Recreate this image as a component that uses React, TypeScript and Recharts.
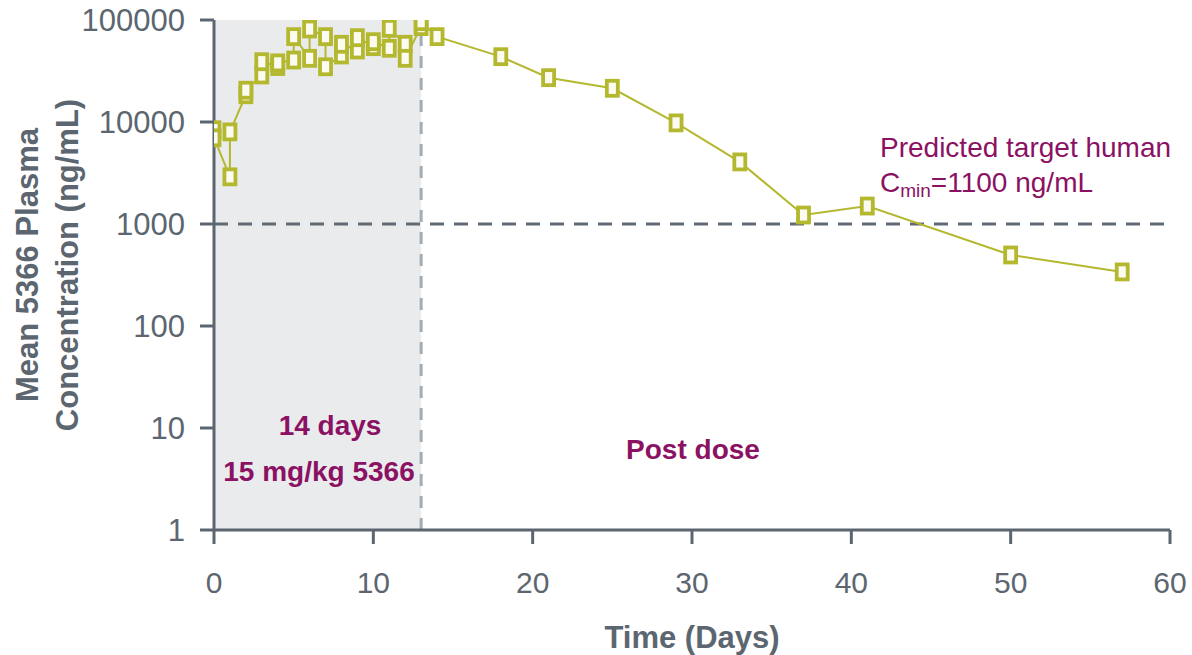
import React from "react";
import {
  ComposedChart,
  Line,
  XAxis,
  YAxis,
  ReferenceArea,
  ReferenceLine,
} from "recharts";

// sampling times (days) and mean plasma concentration (ng/mL)
const days = [
  0, 0, 1, 1, 2, 2, 3, 3, 4, 4, 5, 5, 6, 6, 7, 7, 8, 8, 9, 9, 10, 10, 11, 11, 12, 12, 13, 13,
  14, 18, 21, 25, 29, 33, 37, 41, 50, 57,
];
const conc = [
  8400, 7000, 2900, 8000, 18500, 20500, 28900, 39000, 35000, 38000, 40500, 68700, 42100, 81600,
  68700, 34800, 45400, 57800, 50800, 67100, 54800, 61300, 52800, 82800, 57800, 42100, 86100, 96300,
  68700, 43700, 27200, 21400, 9800, 4060, 1225, 1500, 497, 339,
];

const xTicks = [0, 10, 20, 30, 40, 50, 60];
const yTicks = [1, 10, 100, 1000, 10000, 100000];

const doseEnd = 13;
const targetCmin = 1000;

const data = days.map((t, i) => ({ t, c: conc[i] }));

const axisColor = "#5c6670";
const lineColor = "#b4b82f";
const purple = "#8b1163";
const font = '"Liberation Sans", Arial, sans-serif';

const SquareDot = (props: any) => {
  const { cx, cy } = props;
  if (cx == null || cy == null) return null;
  return (
    <rect
      x={cx - 5.5}
      y={cy - 7.5}
      width={11}
      height={15}
      fill="#fbfbf2"
      stroke={lineColor}
      strokeWidth={3.8}
    />
  );
};

export default function App() {
  return (
    <div style={{ position: "absolute", left: 0, top: 0, width: 1192, height: 655, fontFamily: font, background: "#fff" }}>
      <ComposedChart width={1192} height={655} data={data} margin={{ top: 20, right: 22, bottom: 0, left: 0 }}>
        <ReferenceArea x1={0} x2={doseEnd} y1={1} y2={100000} fill="#e9ebed" fillOpacity={1} stroke="none" />
        <XAxis
          dataKey="t"
          type="number"
          domain={[0, 60]}
          ticks={xTicks}
          allowDataOverflow
          height={125}
          tickSize={14}
          tickMargin={28}
          axisLine={{ stroke: axisColor, strokeWidth: 3 }}
          tickLine={{ stroke: axisColor, strokeWidth: 3 }}
          tick={{ fill: axisColor, fontSize: 30, fontFamily: font }}
        />
        <YAxis
          type="number"
          scale="log"
          domain={[1, 100000]}
          ticks={yTicks}
          allowDataOverflow
          width={214}
          tickSize={14}
          tickMargin={15}
          axisLine={{ stroke: axisColor, strokeWidth: 3 }}
          tickLine={{ stroke: axisColor, strokeWidth: 3 }}
          tick={{ fill: axisColor, fontSize: 31, fontFamily: font }}
        />
        <ReferenceLine x={doseEnd} stroke="#a3abb3" strokeWidth={3} strokeDasharray="12 10" />
        <ReferenceLine y={targetCmin} stroke="#5f6a75" strokeWidth={3} strokeDasharray="14 10" />
        <Line
          dataKey="c"
          type="linear"
          stroke={lineColor}
          strokeWidth={2}
          dot={<SquareDot />}
          activeDot={false}
          isAnimationActive={false}
        />
      </ComposedChart>
      <svg
        width={1192}
        height={655}
        style={{ position: "absolute", left: 0, top: 0, pointerEvents: "none", fontFamily: font }}
      >
        <text x={692} y={648} textAnchor="middle" fontSize={31} fontWeight="bold" fill={axisColor}>
          Time (Days)
        </text>
        <g transform="translate(38,265) rotate(-90)">
          <text x={0} y={0} textAnchor="middle" fontSize={31} fontWeight="bold" fill={axisColor}>
            Mean 5366 Plasma
          </text>
          <text x={0} y={40} textAnchor="middle" fontSize={31} fontWeight="bold" fill={axisColor}>
            Concentration (ng/mL)
          </text>
        </g>
        <text x={880} y={157} fontSize={28} fill={purple}>
          Predicted target human
        </text>
        <text x={880} y={192} fontSize={28} fill={purple}>
          C<tspan fontSize={19} dy={5}>min</tspan>
          <tspan dy={-5}>=1100 ng/mL</tspan>
        </text>
        <text x={330} y={435} textAnchor="middle" fontSize={28} fontWeight="bold" fill={purple}>
          14 days
        </text>
        <text x={319} y={481} textAnchor="middle" fontSize={28} fontWeight="bold" fill={purple}>
          15 mg/kg 5366
        </text>
        <text x={693} y={459} textAnchor="middle" fontSize={28} fontWeight="bold" fill={purple}>
          Post dose
        </text>
      </svg>
    </div>
  );
}
